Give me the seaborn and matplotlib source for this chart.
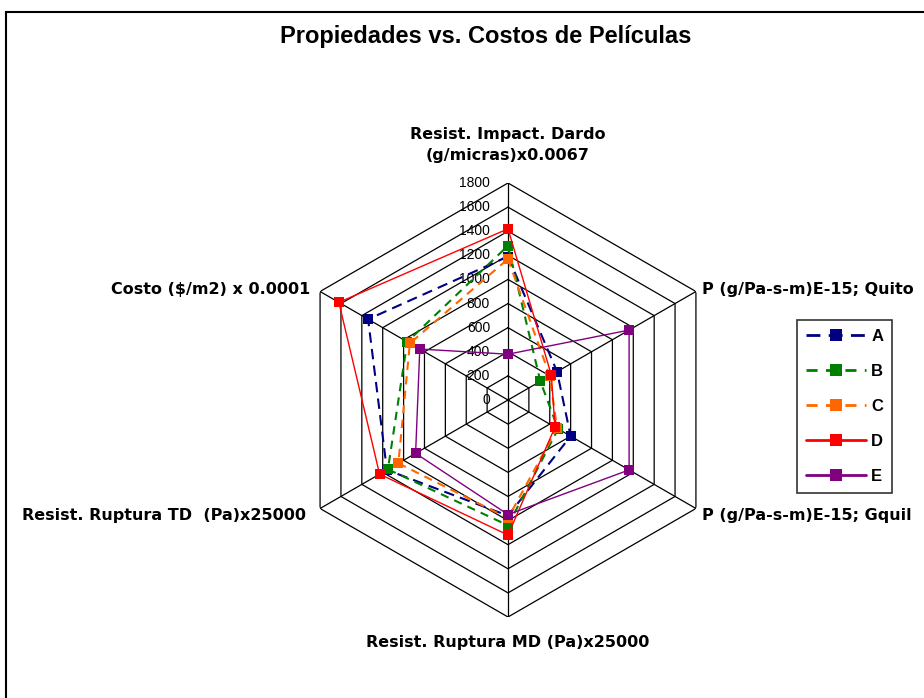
import numpy as np
import pandas as pd
import seaborn as sns
import matplotlib.pyplot as plt
from matplotlib.lines import Line2D
from matplotlib.patches import Rectangle

# ejes del radar (sentido horario desde arriba)
categorias = ["Resist. Impact. Dardo\n(g/micras)x0.0067",
              "P (g/Pa-s-m)E-15; Quito",
              "P (g/Pa-s-m)E-15; Gquil",
              "Resist. Ruptura MD (Pa)x25000",
              "Resist. Ruptura TD  (Pa)x25000",
              "Costo ($/m2) x 0.0001"]

serie_A = [1190, 470, 600, 960, 1160, 1340]
serie_B = [1280, 310, 480, 1040, 1150, 965]
serie_C = [1170, 400, 470, 980, 1050, 940]
serie_D = [1420, 415, 450, 1120, 1230, 1620]
serie_E = [380, 1160, 1160, 950, 885, 845]

nombres = ["A", "B", "C", "D", "E"]
ticks = [0, 200, 400, 600, 800, 1000, 1200, 1400, 1600, 1800]

colores = {"A": "#000080", "B": "#008000", "C": "#FF6600", "D": "#FF0000", "E": "#800080"}
estilos = {"A": (0, (5, 3)), "B": (0, (4, 3)), "C": (0, (4, 3)), "D": "-", "E": "-"}
grosor = {"A": 1.5, "B": 1.5, "C": 1.5, "D": 1.0, "E": 1.0}

sns.set_theme(style="white")
plt.rcParams['font.family'] = ['Liberation Sans', 'DejaVu Sans']
plt.rcParams['text.color'] = 'black'

fig = plt.figure(figsize=(9.24, 6.98), dpi=100)
ax = fig.add_axes([291 / 924, 81 / 698, 434 / 924, 434 / 698], projection="polar")
ax.set_theta_offset(np.pi / 2)
ax.set_theta_direction(-1)
ax.set_ylim(0, ticks[-1])
ax.grid(False)
ax.spines["polar"].set_visible(False)
ax.set_xticks([])
ax.set_yticks([])
ax.set_facecolor("white")

n = len(categorias)
angulos = np.linspace(0, 2 * np.pi, n, endpoint=False)
ang_cerr = np.append(angulos, angulos[0])

# rejilla hexagonal
for r in ticks[1:]:
    ax.plot(ang_cerr, [r] * (n + 1), color="black", lw=0.9, zorder=1)
for a in angulos:
    ax.plot([a, a], [0, ticks[-1]], color="black", lw=0.9, zorder=1)

for r in ticks:
    ax.annotate(str(r), xy=(0, r), xytext=(-18, 0), textcoords="offset pixels",
                ha="right", va="center", fontsize=10, color="black")

series = {"A": serie_A, "B": serie_B, "C": serie_C, "D": serie_D, "E": serie_E}
for nom in nombres:
    vals = series[nom]
    df = pd.DataFrame({"ang": ang_cerr, "val": vals + [vals[0]]})
    sns.lineplot(data=df, x="ang", y="val", sort=False, estimator=None, ax=ax,
                 color=colores[nom], linestyle=estilos[nom], lw=grosor[nom],
                 marker="s", markersize=7.5, markeredgewidth=0,
                 markerfacecolor=colores[nom], zorder=3)
ax.set_xlabel("")
ax.set_ylabel("")

# etiquetas de ejes
pos = [((0, 20), "center", "bottom"),
       ((6, 2), "left", "center"),
       ((6, -7), "left", "center"),
       ((0, -26), "center", "center"),
       ((-14, -7), "right", "center"),
       ((-10, 2), "right", "center")]
for a, lab, (off, ha, va) in zip(angulos, categorias, pos):
    ax.annotate(lab, xy=(a, ticks[-1]), xytext=off, textcoords="offset pixels",
                ha=ha, va=va, fontsize=11.5, fontweight="bold", color="black",
                linespacing=1.5, annotation_clip=False, family="DejaVu Sans")

fig.text(486 / 924, 1 - 37 / 698, "Propiedades vs. Costos de Películas",
         ha="center", va="center", fontsize=17, fontweight="bold", color="black")

# leyenda
handles = [Line2D([0], [0], color=colores[nm], linestyle=estilos[nm], lw=2,
                  marker="s", markersize=8, markeredgewidth=0) for nm in nombres]
leg = fig.legend(handles, nombres, loc="upper left",
                 bbox_to_anchor=(797 / 924, 1 - 320 / 698), frameon=True,
                 fancybox=False, edgecolor="black", handlelength=3.6,
                 labelspacing=1.2, borderpad=0.55, handletextpad=0.3,
                 borderaxespad=0, prop={"size": 12, "weight": "bold"})
leg.get_frame().set_linewidth(1.2)

# marco del gráfico
fig.patches.append(Rectangle((6 / 924, -0.1), 1.2, 1 - 12 / 698 + 0.1,
                             transform=fig.transFigure, fill=False,
                             edgecolor="black", lw=1.5))

fig.savefig("out.png", dpi=100, facecolor="white")
